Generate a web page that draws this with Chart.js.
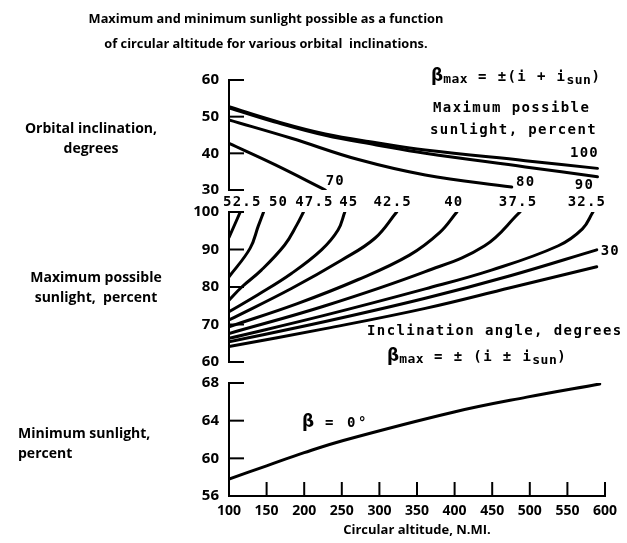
<!DOCTYPE html>
<html>
<head>
<meta charset="utf-8">
<script src="https://cdn.jsdelivr.net/npm/chart.js@4"></script>
<style>
  body { margin: 0; background: #fff; }
  #wrap { position: relative; width: 627px; height: 543px; overflow: hidden; background: #fff; }
  canvas { position: absolute; left: 0; top: 0; }
  .sans { position: absolute; font-family: "Open Sans", sans-serif; font-weight: 700; color: #000; white-space: nowrap; }
  .mono { position: absolute; font-family: "DejaVu Sans Mono", monospace; font-weight: 700; font-size: 14px;
          letter-spacing: 1.4px; color: #000; white-space: nowrap; line-height: 18px; }
  .beta { font-family: "DejaVu Sans", sans-serif; font-size: 17px; letter-spacing: 0; }
  .sub { font-size: 13px; position: relative; top: 3px; letter-spacing: 0.5px; }
</style>
</head>
<body>
<div id="wrap">
  <canvas id="topChart" width="627" height="543"></canvas>
  <canvas id="midChart" width="627" height="543"></canvas>
  <canvas id="lowChart" width="627" height="543"></canvas>

  <div class="sans" style="left:66px; top:6px; width:400px; text-align:center; font-size:12.8px; line-height:25px;">
    Maximum and minimum sunlight possible as a function<br>of circular altitude for various orbital&nbsp; inclinations.
  </div>

  <div class="sans" style="left:11px; top:118px; width:160px; text-align:center; font-size:14px; line-height:20px;">Orbital inclination,<br>degrees</div>
  <div class="sans" style="left:16px; top:267px; width:160px; text-align:center; font-size:14px; line-height:20px;">Maximum possible<br>sunlight,&nbsp; percent</div>
  <div class="sans" style="left:18px; top:423px; font-size:14px; line-height:20px;">Minimum sunlight,<br>percent</div>

  <div class="mono" style="left:431px; top:66px;"><span class="beta">β</span><span class="sub" style="top:2px">max</span> = ±(i + i<span class="sub">sun</span>)</div>
  <div class="mono" style="left:433px; top:98px;">Maximum possible</div>
  <div class="mono" style="left:430px; top:120px;">sunlight, percent</div>
  <div class="mono" style="left:367px; top:321px;">Inclination angle, degrees</div>
  <div class="mono" style="left:387px; top:346px;"><span class="beta">β</span><span class="sub" style="top:2px">max</span> = ± (i ± i<span class="sub">sun</span>)</div>
  <div class="mono" style="left:302px; top:412px; letter-spacing:2.5px;"><span class="beta">β</span> = 0°</div>
</div>

<script>
// Top panel: orbital inclination (deg) vs altitude, one curve per max sunlight %
const topCurveNames = ['100', '90', '80', '70'];
const sun100 = [[100, 52.7], [160, 48.9], [228, 45.3], [296, 42.9], [361, 40.9], [494, 38.0], [590, 35.9]];
const sun90 = [[100, 52.4], [160, 48.6], [228, 44.9], [296, 42.3], [361, 40.0], [494, 36.3], [590, 33.6]];
const sun80 = [[100, 49.1], [183, 44.1], [272, 38.3], [361, 34.1], [476, 30.8]];
const sun70 = [[100, 42.7], [161, 36.9], [228, 30.0]];

// Middle panel: max possible sunlight (%) vs altitude, one curve per inclination
const midCurveNames = ['52.5', '50', '47.5', '45', '42.5', '40', '37.5', '32.5', '30', ''];
const inc525 = [[100, 93.2], [115, 100]];
const inc50 = [[100, 82.7], [128, 90.3], [139, 96.3], [146, 100]];
const inc475 = [[100, 76.5], [117, 80.0], [143, 84.5], [174, 91.2], [190, 96.5], [199, 100]];
const inc45 = [[100, 73.4], [139, 78.0], [183, 83.6], [223, 89.9], [245, 95.2], [254, 100]];
const inc425 = [[100, 71.2], [183, 79.6], [250, 87.2], [294, 93.0], [323, 100]];
const inc40 = [[100, 69.4], [190, 75.5], [272, 82.0], [340, 88.5], [380, 94.5], [403, 100]];
const inc375 = [[100, 67.6], [228, 75.0], [361, 84.1], [440, 91.0], [487, 100]];
const inc325 = [[100, 66.3], [228, 72.5], [361, 79.5], [449, 84.5], [538, 91.0], [570, 95.5], [584, 100]];
const inc30 = [[100, 65.4], [228, 70.8], [361, 77.0], [474, 83.0], [589, 89.9]];
const incLow = [[100, 64.1], [228, 68.9], [361, 74.3], [474, 79.8], [589, 85.4]];

// Bottom panel: minimum sunlight (%) at beta = 0
const minSun = [[100, 57.8], [150, 59.2], [200, 60.6], [252, 61.9], [398, 64.9], [496, 66.5], [593, 67.9]];

const altTicks = [100, 150, 200, 250, 300, 350, 400, 450, 500, 550, 600];

// label placement relative to each curve's last point (dx, dy, align)
const topLabelPos = [[-13, -15, 'center'], [-13, 9, 'center'], [14, -5, 'center'], [10, -9, 'center']];
const midLabelPos = [[2, -10, 'center'], [15, -10, 'center'], [11, -10, 'center'], [4, -10, 'center'],
  [-4, -10, 'center'], [-3, -10, 'center'], [-2, -10, 'center'], [-6, -10, 'center'], [4, 1, 'left'], [0, 0, 'left']];

const inkPlugin = {
  id: 'ink',
  afterDatasetsDraw(chart, args, opts) {
    const ctx = chart.ctx;
    const xs = chart.scales.x, ys = chart.scales.y, area = chart.chartArea;
    ctx.save();
    ctx.strokeStyle = '#000';
    ctx.lineWidth = 2;
    // inward y ticks
    ys.ticks.forEach(t => {
      if (opts.xTicks && t.value === ys.min) return;
      const py = ys.getPixelForValue(t.value);
      ctx.beginPath();
      ctx.moveTo(area.left, py);
      ctx.lineTo(area.left + 15, py);
      ctx.stroke();
    });
    // upward x ticks
    if (opts.xTicks) {
      xs.ticks.forEach(t => {
        if (t.value === xs.min) return;
        const px = xs.getPixelForValue(t.value);
        ctx.beginPath();
        ctx.moveTo(px, area.bottom);
        ctx.lineTo(px, area.bottom - 14);
        ctx.stroke();
      });
    }
    // curve end labels
    ctx.fillStyle = '#000';
    ctx.font = 'bold 14px "DejaVu Sans Mono", monospace';
    if ('letterSpacing' in ctx) ctx.letterSpacing = '1.2px';
    ctx.textBaseline = 'middle';
    chart.data.datasets.forEach((ds, i) => {
      if (!ds.endLabel) return;
      const meta = chart.getDatasetMeta(i);
      const pt = meta.data[meta.data.length - 1];
      const pos = opts.labelPos[i];
      ctx.textAlign = pos[2];
      ctx.fillText(ds.endLabel, pt.x + pos[0], pt.y + pos[1]);
    });
    ctx.restore();
  }
};

const tickFont = { family: '"Open Sans", sans-serif', weight: 'bold', size: 15 };

function curveSet(curves, names) {
  return curves.map((c, i) => ({
    label: names[i] || 'curve',
    endLabel: names[i],
    data: c.map(p => ({ x: p[0], y: p[1] })),
    borderColor: '#000',
    borderWidth: 3,
    pointRadius: 0,
    fill: false,
    tension: 0.4,
    borderCapStyle: 'round'
  }));
}

function makeChart(id, datasets, yMin, yMax, step, padTop, padBottom, showX, labelPos) {
  return new Chart(document.getElementById(id), {
    type: 'line',
    data: { datasets },
    plugins: [inkPlugin],
    options: {
      responsive: false,
      animation: false,
      events: [],
      layout: { padding: { top: padTop, bottom: padBottom, left: 0, right: 22 } },
      plugins: { legend: { display: false }, tooltip: { enabled: false }, ink: { xTicks: showX, labelPos } },
      scales: {
        x: {
          type: 'linear',
          min: 100,
          max: 600,
          display: showX,
          afterBuildTicks: s => { s.ticks = altTicks.map(v => ({ value: v })); },
          afterFit: s => { s.height = showX ? 47 : 0; },
          grid: { display: false, drawTicks: false },
          border: { display: true, color: '#000', width: 2 },
          ticks: { font: { ...tickFont, size: 14 }, color: '#000', padding: 7, maxRotation: 0, autoSkip: false },
          title: {
            display: true,
            text: 'Circular altitude, N.MI.',
            color: '#000',
            font: { family: '"Open Sans", sans-serif', weight: 'bold', size: 13 },
            padding: { top: 0, bottom: 5 }
          }
        },
        y: {
          min: yMin,
          max: yMax,
          afterFit: s => { s.width = 229; },
          grid: { display: false, drawTicks: false },
          border: { display: true, color: '#000', width: 2 },
          ticks: { stepSize: step, font: tickFont, color: '#000', padding: 10 }
        }
      }
    }
  });
}

makeChart('topChart', curveSet([sun100, sun90, sun80, sun70], topCurveNames), 30, 60, 10, 80, 353, false, topLabelPos);
makeChart('midChart', curveSet([inc525, inc50, inc475, inc45, inc425, inc40, inc375, inc325, inc30, incLow], midCurveNames),
  60, 100, 10, 212, 181, false, midLabelPos);
makeChart('lowChart', curveSet([minSun], ['']), 56, 68, 4, 383, 0, true, [[0, 0, 'left']]);
</script>
</body>
</html>
